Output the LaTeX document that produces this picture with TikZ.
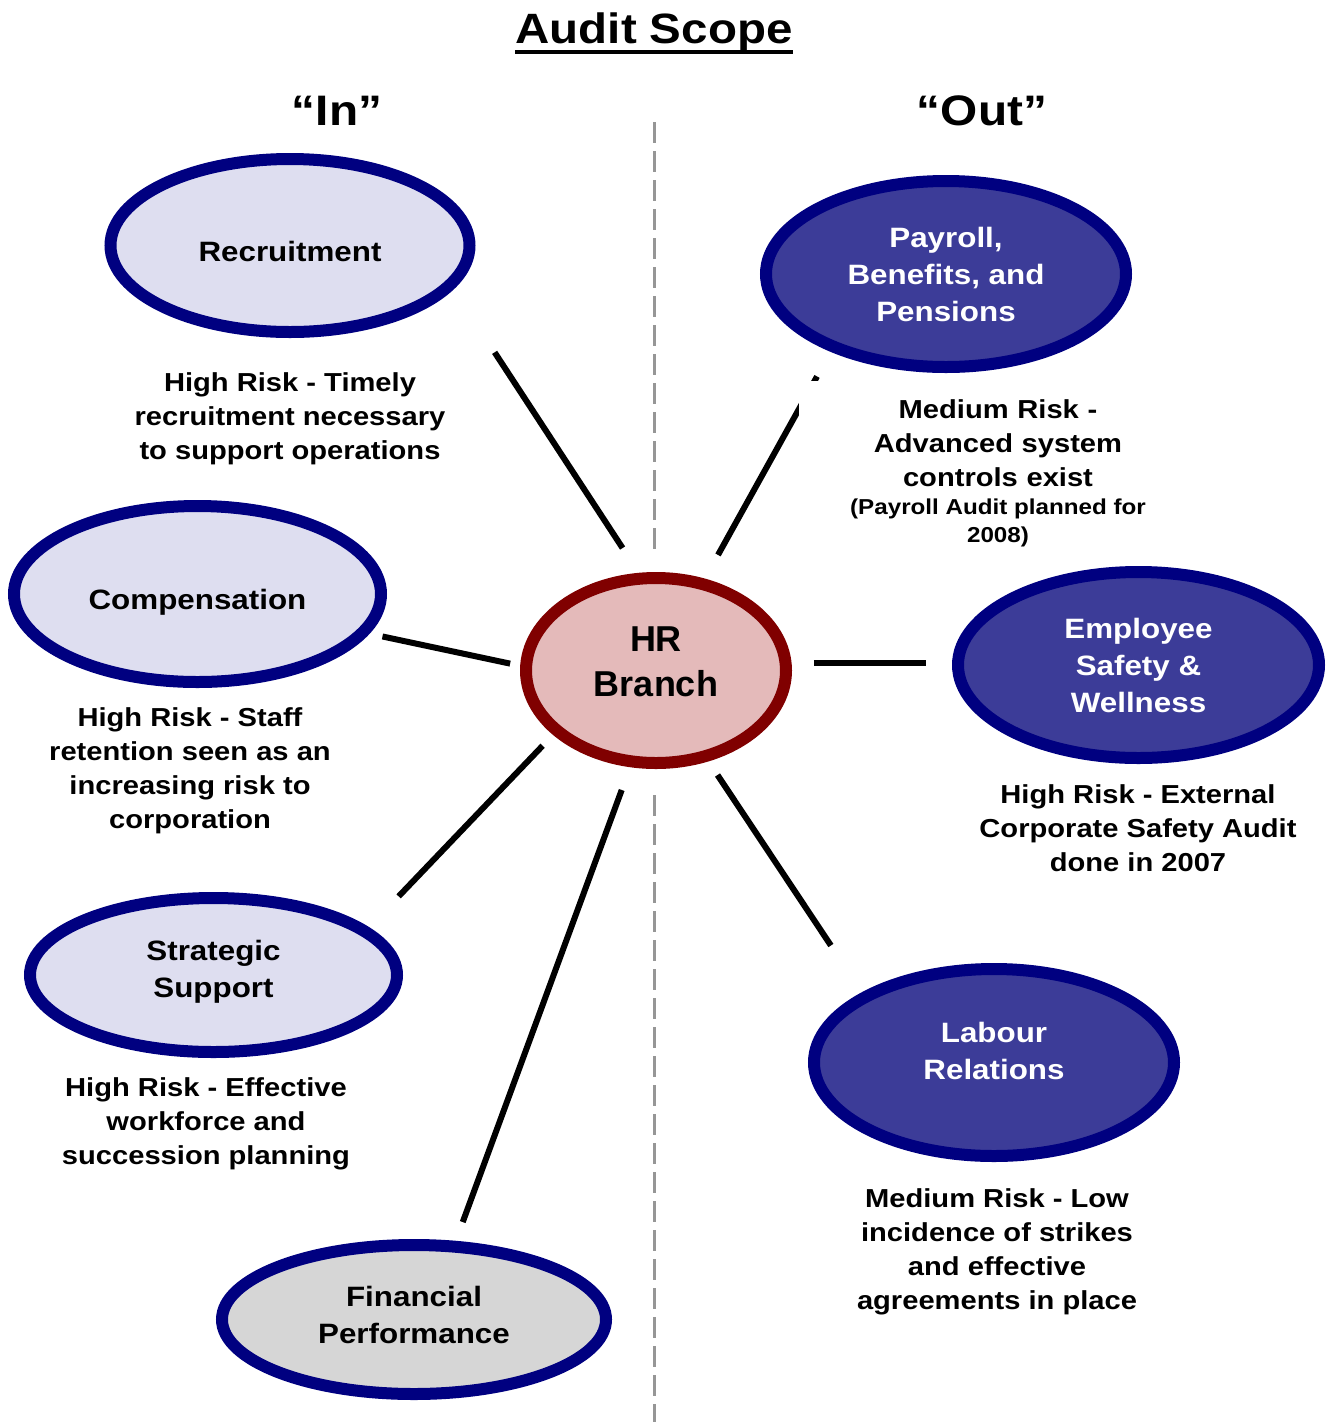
\documentclass[tikz,border=0pt]{standalone}
\usepackage{fontspec}
\setmainfont{Liberation Sans}[FakeStretch=1.12]
\newfontfamily\hrfont{Liberation Sans}
\usepackage{xcolor}
\usetikzlibrary{shapes.geometric}

\definecolor{ovalnavy}{RGB}{0,0,128}
\definecolor{ovallight}{RGB}{222,222,240}
\definecolor{ovaldark}{RGB}{60,60,152}
\definecolor{hrred}{RGB}{128,0,0}
\definecolor{hrfill}{RGB}{228,186,186}
\definecolor{finfill}{RGB}{214,214,214}
\definecolor{dividergray}{RGB}{150,150,150}

% text inside an oval, lifted or dropped a little
\newcommand{\ovaltext}[2]{\raisebox{#1}[0pt][0pt]{\begin{tabular}{@{}c@{}}#2\end{tabular}}}

\begin{document}
\begin{tikzpicture}[x=0.75pt,y=0.75pt,yscale=-1,xscale=1,
    oval/.style={ellipse, draw=ovalnavy, line width=9pt, inner sep=0pt, font=\bfseries\fontsize{21}{27.75}\selectfont},
    inoval/.style={oval, fill=ovallight, text=black},
    outoval/.style={oval, fill=ovaldark, text=white},
    note/.style={anchor=north, inner sep=0pt, align=center, font=\bfseries\fontsize{19.5}{25.5}\selectfont},
    spoke/.style={line width=4.5pt},
    divider/.style={dividergray, line width=2.25pt, dash pattern=on 15.75pt off 6pt}]
        \useasboundingbox (0,0) rectangle (1327,1422);

        % Text Node
        \node [anchor=base, inner sep=0pt, font=\bfseries\fontsize{31.8}{38}\selectfont] (title) at (654,43.3) {Audit Scope};
        \draw [line width=3pt] (title.south west) -- (title.south east);
        % Text Node
        \node [anchor=base, inner sep=0pt, font=\bfseries\fontsize{32}{38}\selectfont] (inlbl) at (337,125) {“In”};
        % Text Node
        \node [anchor=base, inner sep=0pt, font=\bfseries\fontsize{32}{38}\selectfont] (outlbl) at (982,125) {“Out”};

        %Shape: Ellipse
        \node [inoval, minimum width=269.25pt, minimum height=129.75pt] (rec) at (290,245.5) {\ovaltext{-11.7pt}{Recruitment}};
        %Shape: Ellipse
        \node [outoval, minimum width=270pt, minimum height=139.5pt] (pay) at (946,274) {\ovaltext{-7.2pt}{Payroll,\\Benefits, and\\Pensions}};
        %Shape: Ellipse
        \node [inoval, minimum width=275.25pt, minimum height=132pt] (comp) at (197.5,594) {\ovaltext{-11pt}{Compensation}};
        %Shape: Ellipse
        \node [oval, draw=hrred, fill=hrfill, font=\hrfont\bfseries\fontsize{27}{33.75}\selectfont, minimum width=195pt, minimum height=138.75pt] (hr) at (656,670.5) {\ovaltext{-2.2pt}{HR\\Branch}};
        %Shape: Ellipse
        \node [outoval, minimum width=270.75pt, minimum height=139.5pt] (emp) at (1138.5,665) {\ovaltext{-7.2pt}{Employee\\Safety \&\\Wellness}};
        %Shape: Ellipse
        \node [inoval, minimum width=275.25pt, minimum height=115.5pt] (strat) at (213.5,975) {\ovaltext{-2.3pt}{Strategic\\Support}};
        %Shape: Ellipse
        \node [outoval, minimum width=270pt, minimum height=140.25pt] (lab) at (994,1062.5) {\ovaltext{1.8pt}{Labour\\Relations}};
        %Shape: Ellipse
        \node [oval, fill=finfill, minimum width=288pt, minimum height=111.75pt] (fin) at (414,1319.5) {\ovaltext{-3.8pt}{Financial\\Performance}};

        %Straight Lines
        \draw [spoke, shorten <=22.2pt, shorten >=56.5pt] (hr.100) -- (rec.-15);
        \draw [spoke, shorten <=20.3pt, shorten >=21.2pt] (hr.62) -- (pay.214);
        \draw [spoke, shorten <=7.7pt, shorten >=10.1pt] (hr.178) -- (comp.-13);
        \draw [spoke, shorten <=16.7pt, shorten >=19.5pt] (hr.3) -- (hr.3 -| emp.west);
        \draw [spoke, shorten <=11.3pt, shorten >=32.3pt] (hr.212) -- (strat.17);
        \draw [spoke, shorten <=18.2pt, shorten >=15pt] (hr.255) -- (fin.62);
        \draw [spoke, shorten <=12.3pt, shorten >=42.2pt] (hr.-60) -- (lab.152);

        %Dashed divider
        \coordinate (divtop) at (654,122);
        \coordinate (divbot) at (654,1422);
        \draw [divider, shorten >=14.5pt] (divtop) -- (divtop |- hr.north);
        \draw [divider, shorten <=19.5pt] (divtop |- hr.south) -- (divbot);

        % Text Node
        \node [note] (recnote) at (290,372.5) {High Risk - Timely\\recruitment necessary\\to support operations};
        % Text Node
        \node [note, fill=white, text width=298.5pt, inner ysep=13.5pt] (paynote) at (998,381) {Medium Risk -\\Advanced system\\controls exist};
        % Text Node
        \node [note, font=\bfseries\fontsize{16.2}{21}\selectfont] (paysub) at (998,499) {(Payroll Audit planned for\\2008)};
        % Text Node
        \node [note] (compnote) at (190,707.7) {High Risk - Staff\\retention seen as an\\increasing risk to\\corporation};
        % Text Node
        \node [note] (empnote) at (1138,784.7) {High Risk - External\\Corporate Safety Audit\\done in 2007};
        % Text Node
        \node [note] (stratnote) at (206,1077.7) {High Risk - Effective\\workforce and\\succession planning};
        % Text Node
        \node [note] (labnote) at (997,1188.7) {Medium Risk - Low\\incidence of strikes\\and effective\\agreements in place};

\end{tikzpicture}
\end{document}
